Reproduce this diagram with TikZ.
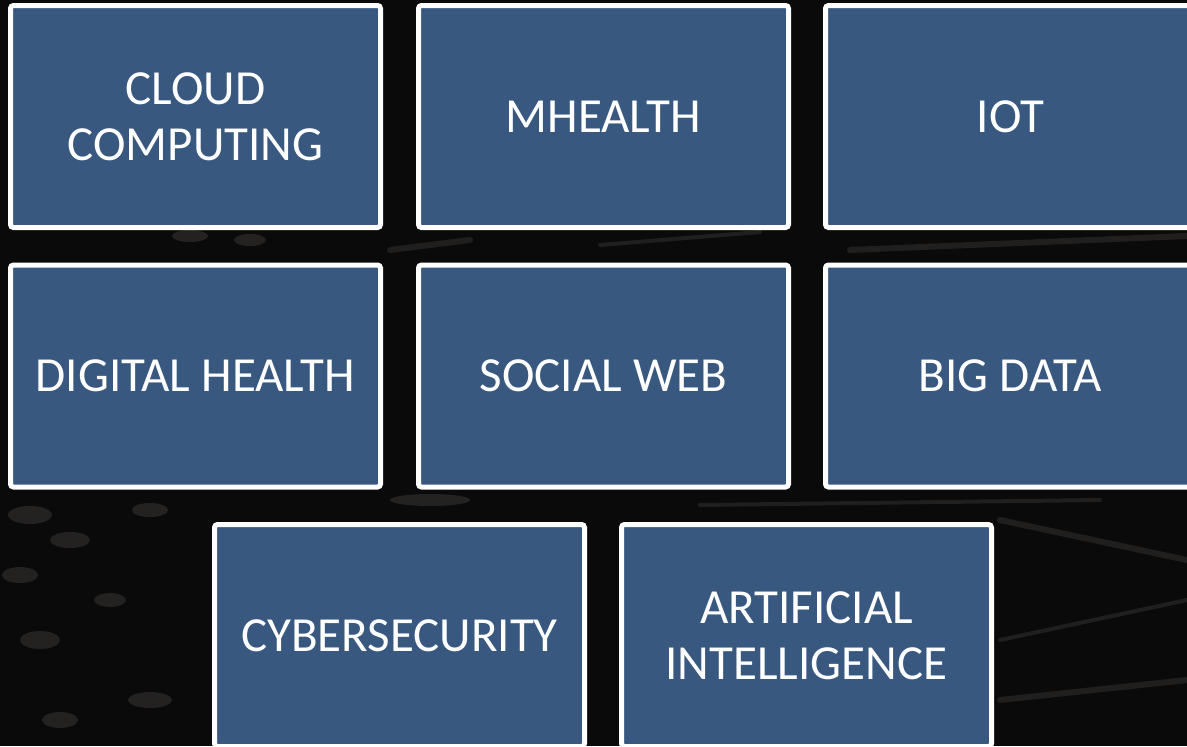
\documentclass[tikz,border=0pt]{standalone}
\usepackage{fontspec}
\setmainfont{Carlito}
\definecolor{boxblue}{HTML}{385880}
\definecolor{bgdark}{HTML}{0B0A0B}
\definecolor{streak}{HTML}{6E6A66}
\begin{document}
\begin{tikzpicture}[x=0.5pt,y=-0.5pt,
  tile/.style={draw=white, line width=2.5pt, fill=boxblue, rounded corners=1.5pt,
    minimum width=185pt, minimum height=111pt, inner sep=0pt,
    text=white, align=center, font=\fontsize{24.5pt}{28pt}\selectfont},
  glint/.style={streak, line cap=round, opacity=0.22},
  bokeh/.style={fill=streak, opacity=0.25}]
\useasboundingbox (0,0) rectangle (1187,746);
\clip (0,0) rectangle (1187,746);
\fill[bgdark] (0,0) rectangle (1187,746);
% background texture (streaks and bokeh)
\draw[glint, line width=3pt] (390,250) -- (470,240);
\draw[glint, line width=2pt] (600,245) -- (760,232);
\draw[glint, line width=3pt] (850,250) -- (1187,236);
\draw[glint, line width=2pt] (700,505) -- (1100,500);
\draw[glint, line width=3pt] (1000,520) -- (1187,560);
\draw[glint, line width=2pt] (1000,640) -- (1187,600);
\draw[glint, line width=3pt] (1000,700) -- (1187,680);
\fill[bokeh] (30,515) ellipse (22 and 9);
\fill[bokeh] (70,540) ellipse (20 and 8);
\fill[bokeh] (20,575) ellipse (18 and 8);
\fill[bokeh] (150,510) ellipse (18 and 7);
\fill[bokeh] (110,600) ellipse (16 and 7);
\fill[bokeh] (40,640) ellipse (20 and 9);
\fill[bokeh] (150,700) ellipse (22 and 8);
\fill[bokeh] (60,720) ellipse (18 and 8);
\fill[bokeh] (190,236) ellipse (18 and 6);
\fill[bokeh] (250,240) ellipse (16 and 6);
\fill[bokeh] (430,500) ellipse (40 and 6);
% tiles
\node[tile] (cloud)  at (195.5,116.5) {CLOUD\\COMPUTING};
\node[tile] (mhealth) at (603.5,116.5) {MHEALTH};
\node[tile] (iot)    at (1010.5,116.5) {IOT};
\node[tile] (digital) at (195.5,376) {DIGITAL HEALTH};
\node[tile] (social) at (603.5,376) {SOCIAL WEB};
\node[tile] (bigdata) at (1010.5,376) {BIG DATA};
\node[tile] (cyber)  at (399.5,635.5) {CYBERSECURITY};
\node[tile] (ai)     at (806.5,635.5) {ARTIFICIAL\\INTELLIGENCE};
\end{tikzpicture}
\end{document}
